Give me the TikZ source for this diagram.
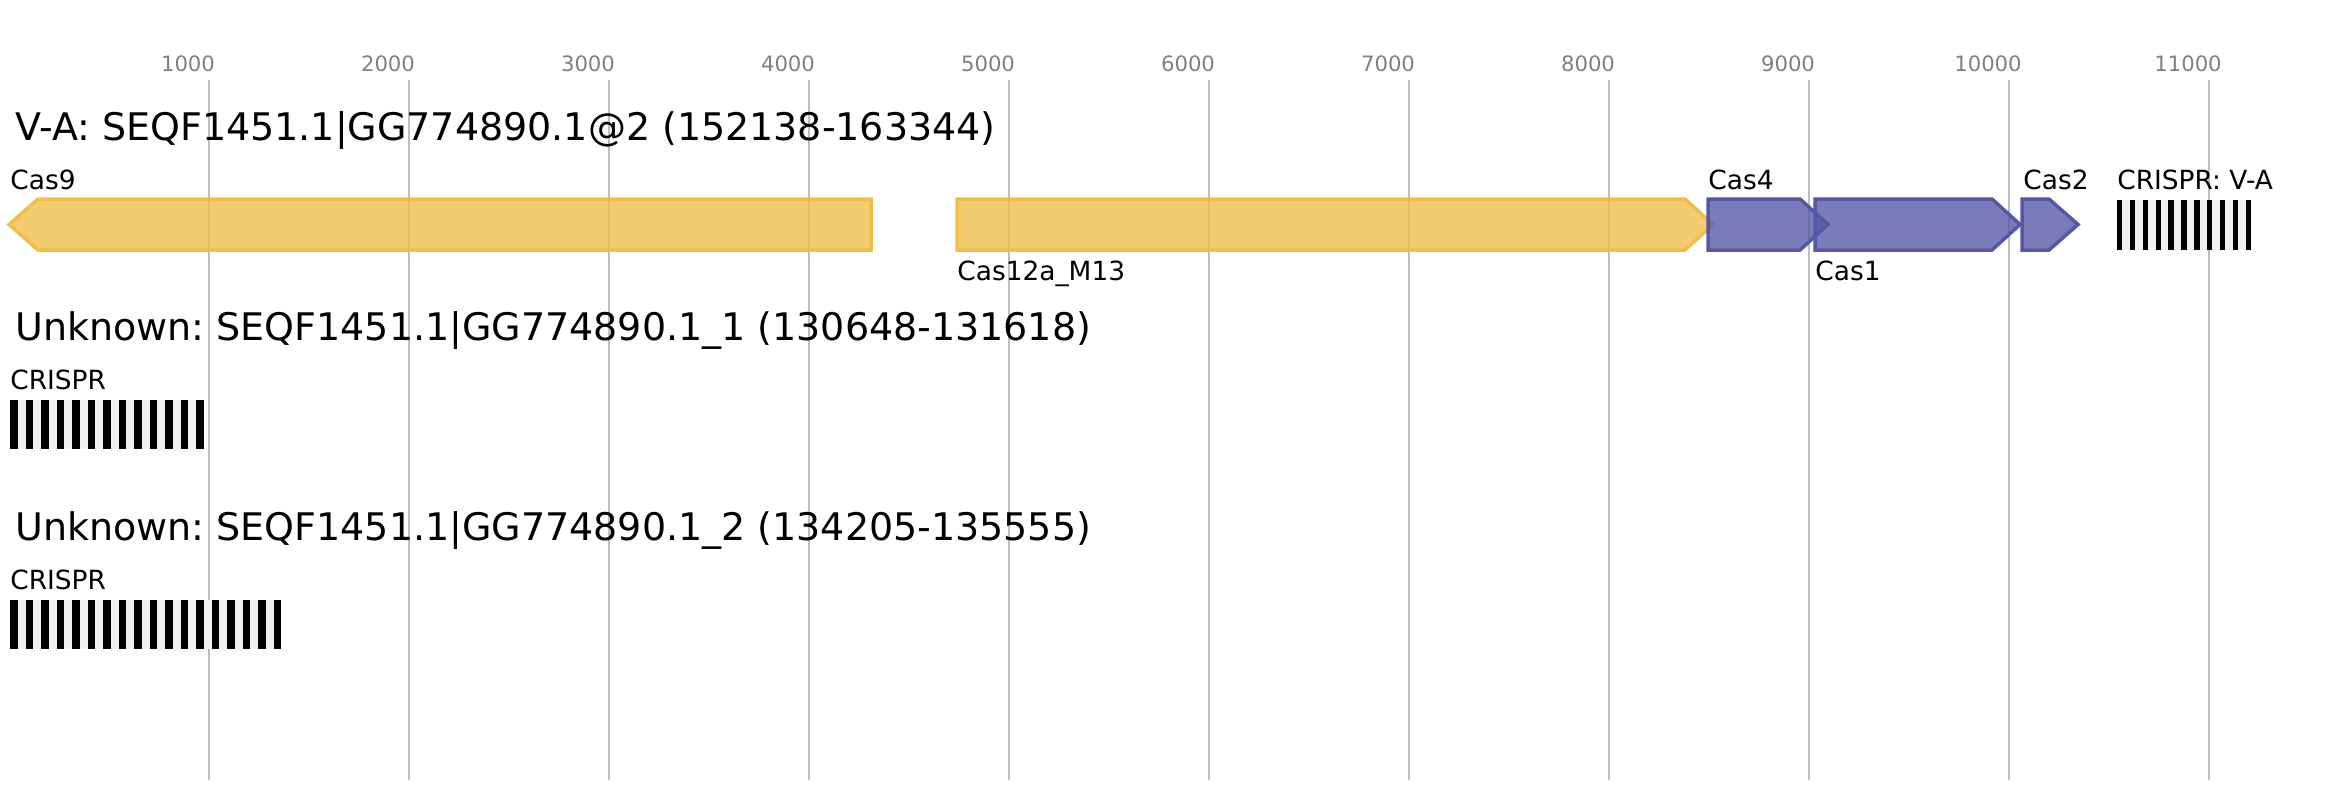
\documentclass[tikz,border=0pt]{standalone}
\usepackage{fontspec}
\setmainfont{DejaVu Sans}
\frenchspacing
\definecolor{casyellow}{RGB}{240,190,72}
\definecolor{casblue}{RGB}{85,88,165}
\definecolor{gridgrey}{RGB}{190,190,190}
\definecolor{spacergrey}{RGB}{240,240,240}

\begin{document}
\begin{tikzpicture}[x=0.5pt,y=-0.5pt]
		\tikzset{
			gridline/.style={draw=gridgrey,line width=1pt},
			ticklabel/.style={text=gray,font=\fontsize{10.6}{12}\selectfont,anchor=base,inner sep=0pt},
			locustitle/.style={font=\fontsize{19}{23}\selectfont,anchor=base west,inner sep=0pt},
			genelabel/.style={font=\fontsize{13.2}{15}\selectfont,anchor=base west,inner sep=0pt},
			yellowgene/.style={draw=casyellow,fill=casyellow,fill opacity=0.78,line width=1.75pt},
			bluegene/.style={draw=casblue,fill=casblue,fill opacity=0.78,line width=1.75pt},
			spacerbox/.style={fill=spacergrey},
			repeatbar/.style={fill=black}
		}
		\useasboundingbox (0,0) rectangle (2341,800);
		
		% scale
		\foreach \k in {1,...,11} {
			\draw[gridline] ({9+200*\k},80) -- ({9+200*\k},780);
			\node[ticklabel] (tick\k) at ({9+200*\k-21},71) {\k000};
		}
		
		% V-A locus
		\node[locustitle] (title_va) at (15,140) {V-A: SEQF1451.1|GG774890.1@2 (152138-163344)};
		
		\draw[yellowgene] (871,199) -- (38,199) -- (9,224.5) -- (38,250) -- (871,250) -- cycle;
		\draw[yellowgene] (957,199) -- (1685,199) -- (1713,224.5) -- (1685,250) -- (957,250) -- cycle;
		\draw[bluegene] (1708,199) -- (1800,199) -- (1828,224.5) -- (1800,250) -- (1708,250) -- cycle;
		\draw[bluegene] (1815,199) -- (1992,199) -- (2020,224.5) -- (1992,250) -- (1815,250) -- cycle;
		\draw[bluegene] (2022,199) -- (2049,199) -- (2078,224.5) -- (2049,250) -- (2022,250) -- cycle;
		
		\node[genelabel] (lab_cas9) at (10,189) {Cas9};
		\node[genelabel] (lab_cas12a) at (957,280) {Cas12a\_M13};
		\node[genelabel] (lab_cas4) at (1708,189) {Cas4};
		\node[genelabel] (lab_cas1) at (1815,280) {Cas1};
		\node[genelabel] (lab_cas2) at (2023,189) {Cas2};
		\node[genelabel] (lab_crispr_va) at (2117,189) {CRISPR: V-A};
		
		\fill[spacerbox] (2117,200) rectangle (2251,250);
		\foreach \i in {0,...,10}
			\fill[repeatbar] ({2117+12.86*\i},200) rectangle +(5.4,50);
		
		% Unknown locus 1
		\node[locustitle] (title_u1) at (15,340) {Unknown: SEQF1451.1|GG774890.1\_1 (130648-131618)};
		\node[genelabel] (lab_crispr_u1) at (10,389) {CRISPR};
		\fill[spacerbox] (10,400) rectangle (204,449);
		\foreach \i in {0,...,12}
			\fill[repeatbar] ({10+15.5*\i},400) rectangle +(7.7,49);
		
		% Unknown locus 2
		\node[locustitle] (title_u2) at (15,540) {Unknown: SEQF1451.1|GG774890.1\_2 (134205-135555)};
		\node[genelabel] (lab_crispr_u2) at (10,589) {CRISPR};
		\fill[spacerbox] (10,600) rectangle (281,649);
		\foreach \i in {0,...,17}
			\fill[repeatbar] ({10+15.5*\i},600) rectangle +(7.7,49);
		
	\end{tikzpicture}
\end{document}
